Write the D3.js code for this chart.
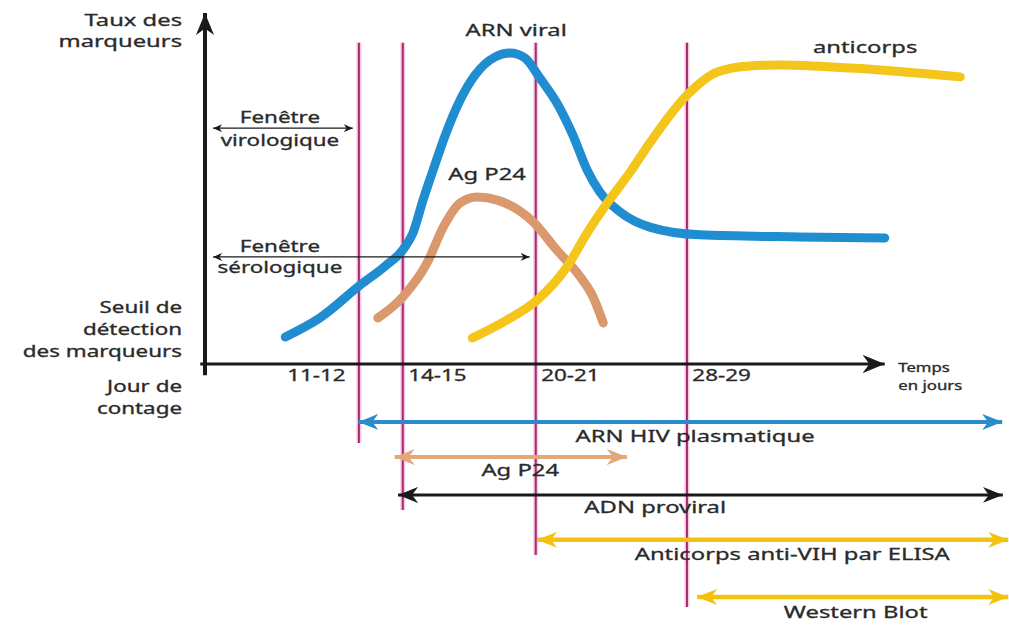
<!DOCTYPE html>
<html>
<head>
<meta charset="utf-8">
<script src="https://cdn.jsdelivr.net/npm/d3@7"></script>
<style>
  body { margin: 0; background: #fff; }
  text { font-family: "Noto Sans", sans-serif; fill: #2a2a2a; stroke: #2a2a2a; stroke-width: 0.3px; }
</style>
</head>
<body>
<div id="chart"></div>
<script>
// time position (arbitrary units along the axis) and marker level (0-100)
const tickLabels = ["11-12", "14-15", "20-21", "28-29"];
const markerPos = [22.8, 29.3, 49.0, 71.4];

const arnX = [11.9, 17.0, 23.0, 26.7, 29.3, 30.8, 32.3, 33.8, 35.6, 37.8, 40.0, 43.0, 45.2, 47.4, 49.6, 52.3, 54.5, 56.6, 58.5, 61.5, 65.9, 73.3, 88.1, 100.7];
const arnY = [7.7, 13.1, 22.5, 27.9, 32.5, 37.3, 46.7, 55.3, 65.2, 75.2, 82.3, 87.5, 88.6, 87.2, 81.5, 73.8, 65.2, 55.3, 49.0, 43.3, 39.0, 36.8, 36.2, 35.9];

const p24X = [25.6, 29.3, 32.9, 35.3, 37.8, 40.3, 43.3, 48.6, 52.1, 55.6, 57.5, 59.0];
const p24Y = [13.1, 19.1, 28.8, 39.0, 45.9, 47.6, 46.7, 40.5, 32.5, 24.8, 19.1, 11.7];

const acX = [39.6, 44.7, 49.2, 53.6, 56.6, 59.6, 63.0, 65.9, 71.4, 75.9, 80.7, 85.6, 95.6, 111.9];
const acY = [7.4, 12.5, 18.2, 27.6, 37.3, 45.9, 54.7, 63.0, 76.6, 83.2, 84.9, 85.2, 84.3, 81.8];

const tests = ["ARN HIV plasmatique", "Ag P24", "ADN proviral", "Anticorps anti-VIH par ELISA", "Western Blot"];
const testStart = [22.7, 28.1, 28.6, 49.2, 72.9];
const testEnd = [118.1, 62.5, 118.2, 119.0, 119.0];

const width = 1009, height = 626;
const STRETCH = 1.4;

const x = d3.scaleLinear().domain([0, 100]).range([205, 880]);
const y = d3.scaleLinear().domain([0, 100]).range([364, 13]);

const svg = d3.select("#chart").append("svg")
  .attr("width", width)
  .attr("height", height);

const defs = svg.append("defs");
function marker(id, color, len, half) {
  defs.append("marker")
    .attr("id", id)
    .attr("viewBox", `0 ${-half} ${len} ${half * 2}`)
    .attr("refX", len).attr("refY", 0)
    .attr("markerWidth", len).attr("markerHeight", half * 2)
    .attr("markerUnits", "userSpaceOnUse")
    .attr("orient", "auto-start-reverse")
    .append("path")
      .attr("d", `M0,${-half}L${len},0L0,${half}L${len * 0.3},0Z`)
      .attr("fill", color);
}
marker("ax", "#1a1a1a", 22, 9);
marker("thin", "#1a1a1a", 9, 4);

// the lettering of the original is wide, so stretch the glyphs
function label(txt, px, py, anchor, size) {
  return svg.append("text")
    .text(txt)
    .attr("transform", `translate(${px},${py}) scale(${STRETCH},1)`)
    .attr("text-anchor", anchor || "middle")
    .attr("font-size", size || 17);
}

// vertical markers
const markerBottom = [-22.5, -41.6, -54.4, -69.2];
svg.selectAll(".vline").data(markerPos).join("line")
  .attr("class", "vline")
  .attr("x1", d => x(d)).attr("x2", d => x(d))
  .attr("y1", y(91.5))
  .attr("y2", (d, i) => y(markerBottom[i]))
  .attr("stroke", "#f7c9e3").attr("stroke-width", 5);
svg.selectAll(".vline2").data(markerPos).join("line")
  .attr("class", "vline2")
  .attr("x1", d => x(d)).attr("x2", d => x(d))
  .attr("y1", y(91.5))
  .attr("y2", (d, i) => y(markerBottom[i]))
  .attr("stroke", "#a52a72").attr("stroke-width", 2);

// axes
svg.append("line")
  .attr("x1", x(0)).attr("x2", x(0))
  .attr("y1", y(-3.2)).attr("y2", y(100))
  .attr("stroke", "#1a1a1a").attr("stroke-width", 4)
  .attr("marker-end", "url(#ax)");
svg.append("line")
  .attr("x1", x(-0.7)).attr("x2", x(100.7))
  .attr("y1", y(0)).attr("y2", y(0))
  .attr("stroke", "#1a1a1a").attr("stroke-width", 3)
  .attr("marker-end", "url(#ax)");

// curves
const line = d3.line().x(d => x(d[0])).y(d => y(d[1])).curve(d3.curveMonotoneX);
const curves = [
  {x: arnX, y: arnY, color: "#1f8dd0"},
  {x: p24X, y: p24Y, color: "#d9996c"},
  {x: acX, y: acY, color: "#f4c51a"}
];
svg.selectAll(".curve").data(curves).join("path")
  .attr("class", "curve")
  .attr("d", c => line(d3.zip(c.x, c.y)))
  .attr("fill", "none")
  .attr("stroke", c => c.color)
  .attr("stroke-width", 9)
  .attr("stroke-linecap", "round");

// windows
const windows = [
  {from: 1.2, to: 21.9, level: 67.2, t1: "Fenêtre", t2: "virologique", b1: 68.7, b2: 62.1},
  {from: 1.2, to: 48.1, level: 30.5, t1: "Fenêtre", t2: "sérologique", b1: 31.9, b2: 25.9}
];
windows.forEach(w => {
  svg.append("line")
    .attr("x1", x(w.from)).attr("x2", x(w.to))
    .attr("y1", y(w.level)).attr("y2", y(w.level))
    .attr("stroke", "#1a1a1a").attr("stroke-width", 1.3)
    .attr("marker-start", "url(#thin)")
    .attr("marker-end", "url(#thin)");
  label(w.t1, x(11.1), y(w.b1), "middle", 16);
  label(w.t2, x(11.1), y(w.b2), "middle", 16);
});

// axis texts
label("Taux des", x(-3.4), y(96.3), "end", 17);
label("marqueurs", x(-3.4), y(90.3), "end", 17);
label("Seuil de", x(-3.4), y(14.5), "end", 16);
label("détection", x(-3.4), y(8.3), "end", 16);
label("des marqueurs", x(-3.4), y(2.0), "end", 16);
label("Jour de", x(-3.4), y(-8.0), "end", 16);
label("contage", x(-3.4), y(-14.2), "end", 16);
label("Temps", x(102.7), y(-2.4), "start", 12);
label("en jours", x(102.7), y(-7.3), "start", 12);

tickLabels.forEach((t, i) => {
  if (i === 0) label(t, x(markerPos[i] - 6.3), y(-4.8), "middle", 16);
  else label(t, x(markerPos[i] + 0.8), y(-4.8), "start", 16);
});

label("ARN viral", x(46.1), y(93.4), "middle", 17);
label("Ag P24", x(41.8), y(52.4), "middle", 17);
label("anticorps", x(97.8), y(88.6), "middle", 17);

// detection periods
const laneLevel = [-16.5, -26.5, -37.3, -50.1, -66.4];
const laneColor = ["#2a8ccb", "#e2a878", "#1a1a1a", "#f4c20d", "#f4c20d"];
const laneWidth = [4, 4, 3, 4.5, 4.5];
const laneLabel = [[72.6, -22.2], [46.7, -31.9], [66.7, -42.5], [87.0, -55.8], [96.4, -72.4]];
tests.forEach((t, i) => {
  marker("lane" + i, laneColor[i], 20, 8);
  svg.append("line")
    .attr("x1", x(testStart[i])).attr("x2", x(testEnd[i]))
    .attr("y1", y(laneLevel[i])).attr("y2", y(laneLevel[i]))
    .attr("stroke", laneColor[i]).attr("stroke-width", laneWidth[i])
    .attr("marker-start", `url(#lane${i})`)
    .attr("marker-end", `url(#lane${i})`);
  label(t, x(laneLabel[i][0]), y(laneLabel[i][1]), "middle", 17);
});
</script>
</body>
</html>
